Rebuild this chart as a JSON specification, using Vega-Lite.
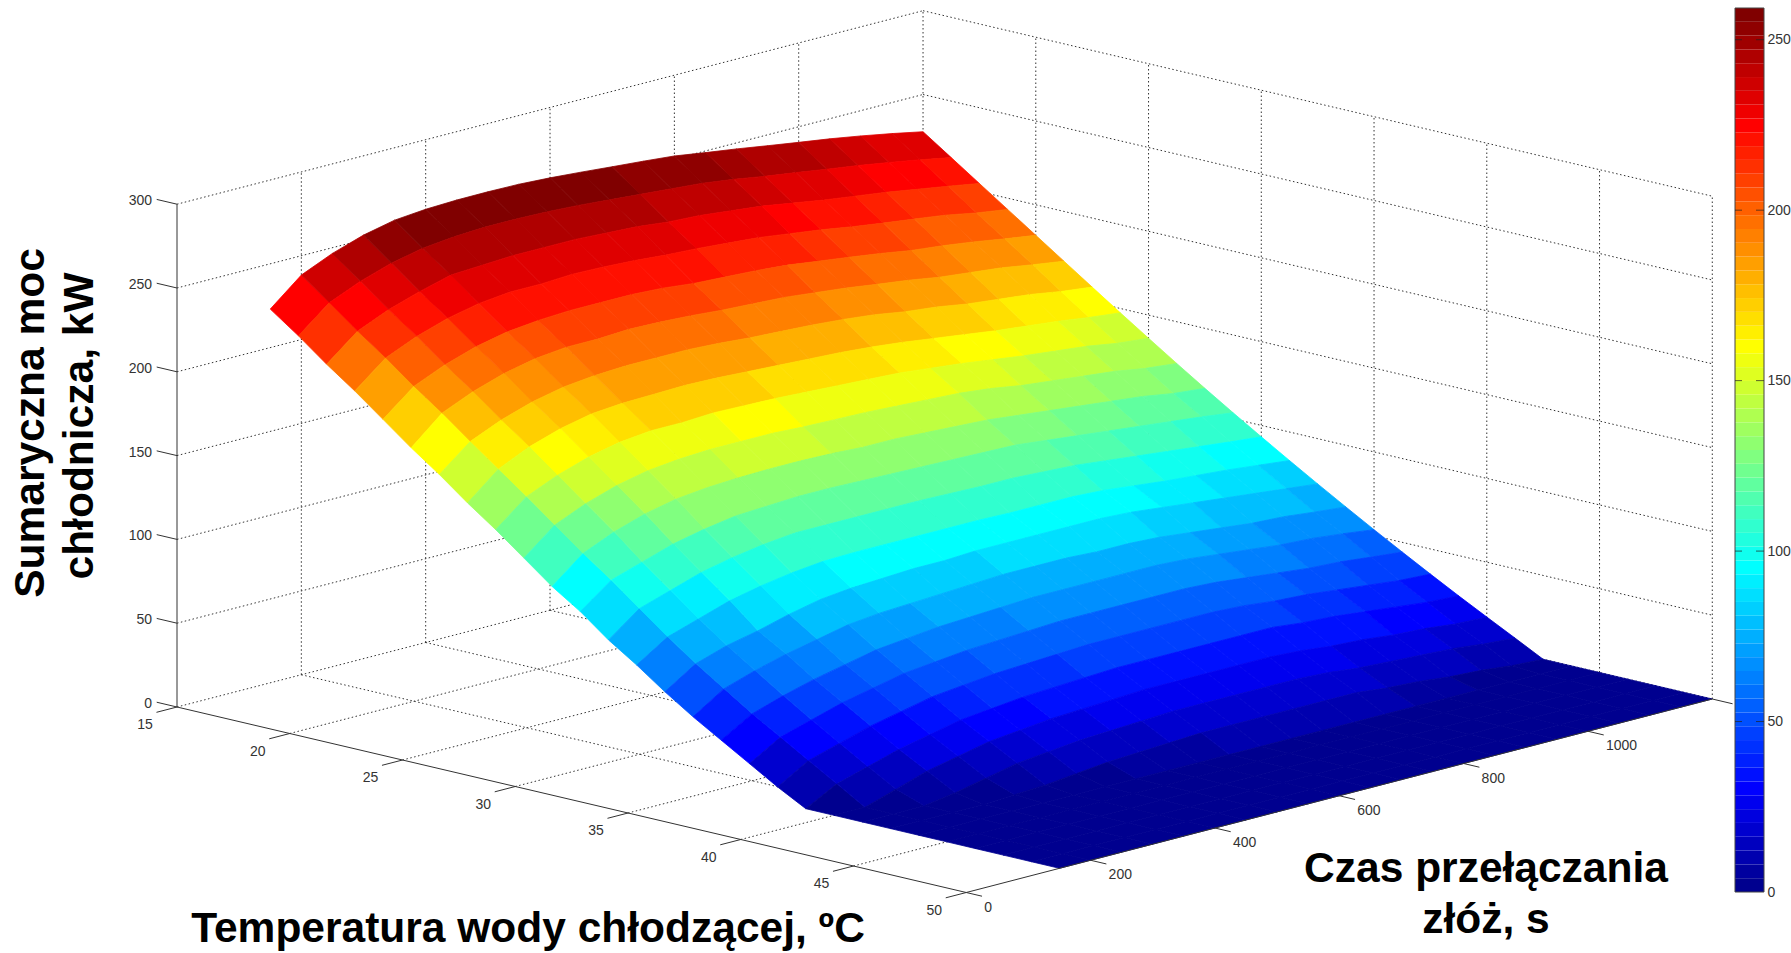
{"$schema":"https://vega.github.io/schema/vega-lite/v6.json","width":1791,"height":953,"padding":0,"autosize":{"type":"none"},"background":"white","config":{"view":{"stroke":null}},
"datasets":{
"surface":[
{"t":15,"s":150,"p":223},{"t":16.25,"s":150,"p":211},{"t":17.5,"s":150,"p":198},{"t":18.75,"s":150,"p":186},{"t":20,"s":150,"p":173},{"t":21.25,"s":150,"p":160},{"t":22.5,"s":150,"p":148},{"t":23.75,"s":150,"p":135},{"t":25,"s":150,"p":123},{"t":26.25,"s":150,"p":110},{"t":27.5,"s":150,"p":97},{"t":28.75,"s":150,"p":86},{"t":30,"s":150,"p":73},{"t":31.25,"s":150,"p":62},{"t":32.5,"s":150,"p":50},{"t":33.75,"s":150,"p":39},{"t":35,"s":150,"p":29},{"t":36.25,"s":150,"p":19},{"t":37.5,"s":150,"p":9},{"t":38.75,"s":150,"p":0},{"t":40,"s":150,"p":0},{"t":41.25,"s":150,"p":0},{"t":42.5,"s":150,"p":0},{"t":43.75,"s":150,"p":0},{"t":45,"s":150,"p":0},{"t":46.25,"s":150,"p":0},{"t":47.5,"s":150,"p":0},{"t":48.75,"s":150,"p":0},{"t":50,"s":150,"p":0},
{"t":15,"s":200,"p":238.5},{"t":16.25,"s":200,"p":226},{"t":17.5,"s":200,"p":213},{"t":18.75,"s":200,"p":201},{"t":20,"s":200,"p":188},{"t":21.25,"s":200,"p":176},{"t":22.5,"s":200,"p":163},{"t":23.75,"s":200,"p":150.5},{"t":25,"s":200,"p":138},{"t":26.25,"s":200,"p":125},{"t":27.5,"s":200,"p":112},{"t":28.75,"s":200,"p":100},{"t":30,"s":200,"p":87},{"t":31.25,"s":200,"p":74},{"t":32.5,"s":200,"p":62},{"t":33.75,"s":200,"p":51},{"t":35,"s":200,"p":40},{"t":36.25,"s":200,"p":30},{"t":37.5,"s":200,"p":20},{"t":38.75,"s":200,"p":10},{"t":40,"s":200,"p":0},{"t":41.25,"s":200,"p":0},{"t":42.5,"s":200,"p":0},{"t":43.75,"s":200,"p":0},{"t":45,"s":200,"p":0},{"t":46.25,"s":200,"p":0},{"t":47.5,"s":200,"p":0},{"t":48.75,"s":200,"p":0},{"t":50,"s":200,"p":0},
{"t":15,"s":250,"p":246.6},{"t":16.25,"s":250,"p":234},{"t":17.5,"s":250,"p":221},{"t":18.75,"s":250,"p":209},{"t":20,"s":250,"p":196},{"t":21.25,"s":250,"p":184},{"t":22.5,"s":250,"p":171},{"t":23.75,"s":250,"p":159},{"t":25,"s":250,"p":146},{"t":26.25,"s":250,"p":133},{"t":27.5,"s":250,"p":120},{"t":28.75,"s":250,"p":106},{"t":30,"s":250,"p":93},{"t":31.25,"s":250,"p":80},{"t":32.5,"s":250,"p":68},{"t":33.75,"s":250,"p":57},{"t":35,"s":250,"p":46},{"t":36.25,"s":250,"p":35.5},{"t":37.5,"s":250,"p":25.5},{"t":38.75,"s":250,"p":15.5},{"t":40,"s":250,"p":6},{"t":41.25,"s":250,"p":0},{"t":42.5,"s":250,"p":0},{"t":43.75,"s":250,"p":0},{"t":45,"s":250,"p":0},{"t":46.25,"s":250,"p":0},{"t":47.5,"s":250,"p":0},{"t":48.75,"s":250,"p":0},{"t":50,"s":250,"p":0},
{"t":15,"s":300,"p":252.7},{"t":16.25,"s":300,"p":240},{"t":17.5,"s":300,"p":227},{"t":18.75,"s":300,"p":215},{"t":20,"s":300,"p":202},{"t":21.25,"s":300,"p":190},{"t":22.5,"s":300,"p":177},{"t":23.75,"s":300,"p":165},{"t":25,"s":300,"p":152},{"t":26.25,"s":300,"p":139},{"t":27.5,"s":300,"p":126},{"t":28.75,"s":300,"p":112},{"t":30,"s":300,"p":99},{"t":31.25,"s":300,"p":86},{"t":32.5,"s":300,"p":72},{"t":33.75,"s":300,"p":62},{"t":35,"s":300,"p":51},{"t":36.25,"s":300,"p":41},{"t":37.5,"s":300,"p":31},{"t":38.75,"s":300,"p":21},{"t":40,"s":300,"p":12},{"t":41.25,"s":300,"p":3},{"t":42.5,"s":300,"p":0},{"t":43.75,"s":300,"p":0},{"t":45,"s":300,"p":0},{"t":46.25,"s":300,"p":0},{"t":47.5,"s":300,"p":0},{"t":48.75,"s":300,"p":0},{"t":50,"s":300,"p":0},
{"t":15,"s":350,"p":256.8},{"t":16.25,"s":350,"p":244},{"t":17.5,"s":350,"p":232},{"t":18.75,"s":350,"p":219},{"t":20,"s":350,"p":206},{"t":21.25,"s":350,"p":194},{"t":22.5,"s":350,"p":181},{"t":23.75,"s":350,"p":169},{"t":25,"s":350,"p":156},{"t":26.25,"s":350,"p":143},{"t":27.5,"s":350,"p":130},{"t":28.75,"s":350,"p":116},{"t":30,"s":350,"p":103},{"t":31.25,"s":350,"p":90},{"t":32.5,"s":350,"p":77},{"t":33.75,"s":350,"p":66},{"t":35,"s":350,"p":55},{"t":36.25,"s":350,"p":45},{"t":37.5,"s":350,"p":35},{"t":38.75,"s":350,"p":25},{"t":40,"s":350,"p":16},{"t":41.25,"s":350,"p":7},{"t":42.5,"s":350,"p":1},{"t":43.75,"s":350,"p":0},{"t":45,"s":350,"p":0},{"t":46.25,"s":350,"p":0},{"t":47.5,"s":350,"p":0},{"t":48.75,"s":350,"p":0},{"t":50,"s":350,"p":0},
{"t":15,"s":400,"p":258.5},{"t":16.25,"s":400,"p":246},{"t":17.5,"s":400,"p":233},{"t":18.75,"s":400,"p":221},{"t":20,"s":400,"p":208},{"t":21.25,"s":400,"p":196},{"t":22.5,"s":400,"p":183},{"t":23.75,"s":400,"p":170.5},{"t":25,"s":400,"p":158},{"t":26.25,"s":400,"p":145},{"t":27.5,"s":400,"p":132},{"t":28.75,"s":400,"p":119},{"t":30,"s":400,"p":106},{"t":31.25,"s":400,"p":93},{"t":32.5,"s":400,"p":81},{"t":33.75,"s":400,"p":70},{"t":35,"s":400,"p":59},{"t":36.25,"s":400,"p":49},{"t":37.5,"s":400,"p":39},{"t":38.75,"s":400,"p":29},{"t":40,"s":400,"p":20},{"t":41.25,"s":400,"p":11},{"t":42.5,"s":400,"p":2},{"t":43.75,"s":400,"p":0},{"t":45,"s":400,"p":0},{"t":46.25,"s":400,"p":0},{"t":47.5,"s":400,"p":0},{"t":48.75,"s":400,"p":0},{"t":50,"s":400,"p":0},
{"t":15,"s":450,"p":259.2},{"t":16.25,"s":450,"p":247},{"t":17.5,"s":450,"p":234},{"t":18.75,"s":450,"p":221},{"t":20,"s":450,"p":209},{"t":21.25,"s":450,"p":196},{"t":22.5,"s":450,"p":184},{"t":23.75,"s":450,"p":171},{"t":25,"s":450,"p":158},{"t":26.25,"s":450,"p":146},{"t":27.5,"s":450,"p":133},{"t":28.75,"s":450,"p":120},{"t":30,"s":450,"p":108},{"t":31.25,"s":450,"p":95},{"t":32.5,"s":450,"p":83},{"t":33.75,"s":450,"p":72},{"t":35,"s":450,"p":61},{"t":36.25,"s":450,"p":51},{"t":37.5,"s":450,"p":41},{"t":38.75,"s":450,"p":31},{"t":40,"s":450,"p":22},{"t":41.25,"s":450,"p":13},{"t":42.5,"s":450,"p":4},{"t":43.75,"s":450,"p":0},{"t":45,"s":450,"p":0},{"t":46.25,"s":450,"p":0},{"t":47.5,"s":450,"p":0},{"t":48.75,"s":450,"p":0},{"t":50,"s":450,"p":0},
{"t":15,"s":500,"p":259.3},{"t":16.25,"s":500,"p":247},{"t":17.5,"s":500,"p":234},{"t":18.75,"s":500,"p":222},{"t":20,"s":500,"p":209},{"t":21.25,"s":500,"p":197},{"t":22.5,"s":500,"p":184},{"t":23.75,"s":500,"p":171.5},{"t":25,"s":500,"p":159},{"t":26.25,"s":500,"p":146},{"t":27.5,"s":500,"p":133.5},{"t":28.75,"s":500,"p":121},{"t":30,"s":500,"p":108},{"t":31.25,"s":500,"p":95.5},{"t":32.5,"s":500,"p":84},{"t":33.75,"s":500,"p":73},{"t":35,"s":500,"p":63},{"t":36.25,"s":500,"p":53},{"t":37.5,"s":500,"p":43},{"t":38.75,"s":500,"p":33},{"t":40,"s":500,"p":24},{"t":41.25,"s":500,"p":15},{"t":42.5,"s":500,"p":6},{"t":43.75,"s":500,"p":0},{"t":45,"s":500,"p":0},{"t":46.25,"s":500,"p":0},{"t":47.5,"s":500,"p":0},{"t":48.75,"s":500,"p":0},{"t":50,"s":500,"p":0},
{"t":15,"s":550,"p":259},{"t":16.25,"s":550,"p":246.5},{"t":17.5,"s":550,"p":234},{"t":18.75,"s":550,"p":221.5},{"t":20,"s":550,"p":209},{"t":21.25,"s":550,"p":196.5},{"t":22.5,"s":550,"p":184},{"t":23.75,"s":550,"p":171},{"t":25,"s":550,"p":158.5},{"t":26.25,"s":550,"p":146},{"t":27.5,"s":550,"p":133.5},{"t":28.75,"s":550,"p":121},{"t":30,"s":550,"p":108},{"t":31.25,"s":550,"p":95.5},{"t":32.5,"s":550,"p":85},{"t":33.75,"s":550,"p":74},{"t":35,"s":550,"p":64},{"t":36.25,"s":550,"p":54},{"t":37.5,"s":550,"p":44},{"t":38.75,"s":550,"p":34},{"t":40,"s":550,"p":25},{"t":41.25,"s":550,"p":16},{"t":42.5,"s":550,"p":7},{"t":43.75,"s":550,"p":0},{"t":45,"s":550,"p":0},{"t":46.25,"s":550,"p":0},{"t":47.5,"s":550,"p":0},{"t":48.75,"s":550,"p":0},{"t":50,"s":550,"p":0},
{"t":15,"s":600,"p":258},{"t":16.25,"s":600,"p":245.5},{"t":17.5,"s":600,"p":233},{"t":18.75,"s":600,"p":220.5},{"t":20,"s":600,"p":208},{"t":21.25,"s":600,"p":195.5},{"t":22.5,"s":600,"p":183},{"t":23.75,"s":600,"p":170},{"t":25,"s":600,"p":158},{"t":26.25,"s":600,"p":145},{"t":27.5,"s":600,"p":133},{"t":28.75,"s":600,"p":120.5},{"t":30,"s":600,"p":108},{"t":31.25,"s":600,"p":95.5},{"t":32.5,"s":600,"p":85},{"t":33.75,"s":600,"p":75},{"t":35,"s":600,"p":65},{"t":36.25,"s":600,"p":55},{"t":37.5,"s":600,"p":45},{"t":38.75,"s":600,"p":35},{"t":40,"s":600,"p":26},{"t":41.25,"s":600,"p":17},{"t":42.5,"s":600,"p":8},{"t":43.75,"s":600,"p":0},{"t":45,"s":600,"p":0},{"t":46.25,"s":600,"p":0},{"t":47.5,"s":600,"p":0},{"t":48.75,"s":600,"p":0},{"t":50,"s":600,"p":0},
{"t":15,"s":650,"p":256.6},{"t":16.25,"s":650,"p":244},{"t":17.5,"s":650,"p":232},{"t":18.75,"s":650,"p":219},{"t":20,"s":650,"p":206},{"t":21.25,"s":650,"p":194},{"t":22.5,"s":650,"p":181.5},{"t":23.75,"s":650,"p":169},{"t":25,"s":650,"p":157},{"t":26.25,"s":650,"p":144.5},{"t":27.5,"s":650,"p":132},{"t":28.75,"s":650,"p":120},{"t":30,"s":650,"p":108},{"t":31.25,"s":650,"p":95.5},{"t":32.5,"s":650,"p":86},{"t":33.75,"s":650,"p":76},{"t":35,"s":650,"p":66},{"t":36.25,"s":650,"p":56},{"t":37.5,"s":650,"p":46},{"t":38.75,"s":650,"p":36},{"t":40,"s":650,"p":27},{"t":41.25,"s":650,"p":18},{"t":42.5,"s":650,"p":9},{"t":43.75,"s":650,"p":0},{"t":45,"s":650,"p":0},{"t":46.25,"s":650,"p":0},{"t":47.5,"s":650,"p":0},{"t":48.75,"s":650,"p":0},{"t":50,"s":650,"p":0},
{"t":15,"s":700,"p":255},{"t":16.25,"s":700,"p":242.5},{"t":17.5,"s":700,"p":230},{"t":18.75,"s":700,"p":218},{"t":20,"s":700,"p":205},{"t":21.25,"s":700,"p":193},{"t":22.5,"s":700,"p":180.5},{"t":23.75,"s":700,"p":168},{"t":25,"s":700,"p":156},{"t":26.25,"s":700,"p":144},{"t":27.5,"s":700,"p":132},{"t":28.75,"s":700,"p":119.5},{"t":30,"s":700,"p":107.5},{"t":31.25,"s":700,"p":95.5},{"t":32.5,"s":700,"p":86},{"t":33.75,"s":700,"p":76},{"t":35,"s":700,"p":66},{"t":36.25,"s":700,"p":56},{"t":37.5,"s":700,"p":46},{"t":38.75,"s":700,"p":36},{"t":40,"s":700,"p":27},{"t":41.25,"s":700,"p":18},{"t":42.5,"s":700,"p":9},{"t":43.75,"s":700,"p":0},{"t":45,"s":700,"p":0},{"t":46.25,"s":700,"p":0},{"t":47.5,"s":700,"p":0},{"t":48.75,"s":700,"p":0},{"t":50,"s":700,"p":0},
{"t":15,"s":750,"p":253.5},{"t":16.25,"s":750,"p":241},{"t":17.5,"s":750,"p":229},{"t":18.75,"s":750,"p":216.5},{"t":20,"s":750,"p":204},{"t":21.25,"s":750,"p":192},{"t":22.5,"s":750,"p":179.5},{"t":23.75,"s":750,"p":167},{"t":25,"s":750,"p":155},{"t":26.25,"s":750,"p":143},{"t":27.5,"s":750,"p":131},{"t":28.75,"s":750,"p":119},{"t":30,"s":750,"p":107},{"t":31.25,"s":750,"p":95},{"t":32.5,"s":750,"p":86},{"t":33.75,"s":750,"p":76},{"t":35,"s":750,"p":66},{"t":36.25,"s":750,"p":56},{"t":37.5,"s":750,"p":46},{"t":38.75,"s":750,"p":36},{"t":40,"s":750,"p":27},{"t":41.25,"s":750,"p":18},{"t":42.5,"s":750,"p":9},{"t":43.75,"s":750,"p":0},{"t":45,"s":750,"p":0},{"t":46.25,"s":750,"p":0},{"t":47.5,"s":750,"p":0},{"t":48.75,"s":750,"p":0},{"t":50,"s":750,"p":0},
{"t":15,"s":800,"p":251.8},{"t":16.25,"s":800,"p":239.5},{"t":17.5,"s":800,"p":227},{"t":18.75,"s":800,"p":215},{"t":20,"s":800,"p":202.5},{"t":21.25,"s":800,"p":190},{"t":22.5,"s":800,"p":178},{"t":23.75,"s":800,"p":165.5},{"t":25,"s":800,"p":154},{"t":26.25,"s":800,"p":142},{"t":27.5,"s":800,"p":130},{"t":28.75,"s":800,"p":118.5},{"t":30,"s":800,"p":107},{"t":31.25,"s":800,"p":95},{"t":32.5,"s":800,"p":86},{"t":33.75,"s":800,"p":75},{"t":35,"s":800,"p":66},{"t":36.25,"s":800,"p":56},{"t":37.5,"s":800,"p":46},{"t":38.75,"s":800,"p":36},{"t":40,"s":800,"p":27},{"t":41.25,"s":800,"p":18},{"t":42.5,"s":800,"p":9},{"t":43.75,"s":800,"p":0},{"t":45,"s":800,"p":0},{"t":46.25,"s":800,"p":0},{"t":47.5,"s":800,"p":0},{"t":48.75,"s":800,"p":0},{"t":50,"s":800,"p":0},
{"t":15,"s":850,"p":249},{"t":16.25,"s":850,"p":237},{"t":17.5,"s":850,"p":225},{"t":18.75,"s":850,"p":212.5},{"t":20,"s":850,"p":200},{"t":21.25,"s":850,"p":188},{"t":22.5,"s":850,"p":176},{"t":23.75,"s":850,"p":163.5},{"t":25,"s":850,"p":152},{"t":26.25,"s":850,"p":141},{"t":27.5,"s":850,"p":129},{"t":28.75,"s":850,"p":118},{"t":30,"s":850,"p":106},{"t":31.25,"s":850,"p":95},{"t":32.5,"s":850,"p":86},{"t":33.75,"s":850,"p":75},{"t":35,"s":850,"p":66},{"t":36.25,"s":850,"p":56},{"t":37.5,"s":850,"p":46},{"t":38.75,"s":850,"p":36},{"t":40,"s":850,"p":27},{"t":41.25,"s":850,"p":18},{"t":42.5,"s":850,"p":9},{"t":43.75,"s":850,"p":0},{"t":45,"s":850,"p":0},{"t":46.25,"s":850,"p":0},{"t":47.5,"s":850,"p":0},{"t":48.75,"s":850,"p":0},{"t":50,"s":850,"p":0},
{"t":15,"s":900,"p":246.4},{"t":16.25,"s":900,"p":234},{"t":17.5,"s":900,"p":222},{"t":18.75,"s":900,"p":210},{"t":20,"s":900,"p":197.6},{"t":21.25,"s":900,"p":185.4},{"t":22.5,"s":900,"p":173},{"t":23.75,"s":900,"p":161},{"t":25,"s":900,"p":150},{"t":26.25,"s":900,"p":139},{"t":27.5,"s":900,"p":127},{"t":28.75,"s":900,"p":116},{"t":30,"s":900,"p":105},{"t":31.25,"s":900,"p":94},{"t":32.5,"s":900,"p":85},{"t":33.75,"s":900,"p":74},{"t":35,"s":900,"p":65},{"t":36.25,"s":900,"p":55},{"t":37.5,"s":900,"p":45},{"t":38.75,"s":900,"p":36},{"t":40,"s":900,"p":26},{"t":41.25,"s":900,"p":17},{"t":42.5,"s":900,"p":9},{"t":43.75,"s":900,"p":0},{"t":45,"s":900,"p":0},{"t":46.25,"s":900,"p":0},{"t":47.5,"s":900,"p":0},{"t":48.75,"s":900,"p":0},{"t":50,"s":900,"p":0},
{"t":15,"s":950,"p":243.5},{"t":16.25,"s":950,"p":231.4},{"t":17.5,"s":950,"p":219},{"t":18.75,"s":950,"p":207},{"t":20,"s":950,"p":195},{"t":21.25,"s":950,"p":183},{"t":22.5,"s":950,"p":171},{"t":23.75,"s":950,"p":158.5},{"t":25,"s":950,"p":147.5},{"t":26.25,"s":950,"p":136},{"t":27.5,"s":950,"p":125},{"t":28.75,"s":950,"p":114},{"t":30,"s":950,"p":103},{"t":31.25,"s":950,"p":92},{"t":32.5,"s":950,"p":83},{"t":33.75,"s":950,"p":72},{"t":35,"s":950,"p":63},{"t":36.25,"s":950,"p":53},{"t":37.5,"s":950,"p":43},{"t":38.75,"s":950,"p":34},{"t":40,"s":950,"p":24},{"t":41.25,"s":950,"p":15},{"t":42.5,"s":950,"p":7},{"t":43.75,"s":950,"p":0},{"t":45,"s":950,"p":0},{"t":46.25,"s":950,"p":0},{"t":47.5,"s":950,"p":0},{"t":48.75,"s":950,"p":0},{"t":50,"s":950,"p":0},
{"t":15,"s":1000,"p":240.7},{"t":16.25,"s":1000,"p":228.6},{"t":17.5,"s":1000,"p":216.5},{"t":18.75,"s":1000,"p":204.4},{"t":20,"s":1000,"p":192},{"t":21.25,"s":1000,"p":180},{"t":22.5,"s":1000,"p":168},{"t":23.75,"s":1000,"p":156},{"t":25,"s":1000,"p":145},{"t":26.25,"s":1000,"p":134},{"t":27.5,"s":1000,"p":123},{"t":28.75,"s":1000,"p":112},{"t":30,"s":1000,"p":101},{"t":31.25,"s":1000,"p":90},{"t":32.5,"s":1000,"p":81},{"t":33.75,"s":1000,"p":70},{"t":35,"s":1000,"p":61},{"t":36.25,"s":1000,"p":51},{"t":37.5,"s":1000,"p":42},{"t":38.75,"s":1000,"p":33},{"t":40,"s":1000,"p":23},{"t":41.25,"s":1000,"p":14},{"t":42.5,"s":1000,"p":6},{"t":43.75,"s":1000,"p":0},{"t":45,"s":1000,"p":0},{"t":46.25,"s":1000,"p":0},{"t":47.5,"s":1000,"p":0},{"t":48.75,"s":1000,"p":0},{"t":50,"s":1000,"p":0},
{"t":15,"s":1050,"p":238},{"t":16.25,"s":1050,"p":226},{"t":17.5,"s":1050,"p":214},{"t":18.75,"s":1050,"p":202},{"t":20,"s":1050,"p":190},{"t":21.25,"s":1050,"p":178},{"t":22.5,"s":1050,"p":166},{"t":23.75,"s":1050,"p":154},{"t":25,"s":1050,"p":143},{"t":26.25,"s":1050,"p":132},{"t":27.5,"s":1050,"p":121},{"t":28.75,"s":1050,"p":110},{"t":30,"s":1050,"p":99},{"t":31.25,"s":1050,"p":88.5},{"t":32.5,"s":1050,"p":79},{"t":33.75,"s":1050,"p":68},{"t":35,"s":1050,"p":59},{"t":36.25,"s":1050,"p":49},{"t":37.5,"s":1050,"p":40},{"t":38.75,"s":1050,"p":31},{"t":40,"s":1050,"p":21},{"t":41.25,"s":1050,"p":13},{"t":42.5,"s":1050,"p":4},{"t":43.75,"s":1050,"p":0},{"t":45,"s":1050,"p":0},{"t":46.25,"s":1050,"p":0},{"t":47.5,"s":1050,"p":0},{"t":48.75,"s":1050,"p":0},{"t":50,"s":1050,"p":0},
{"t":15,"s":1100,"p":234.9},{"t":16.25,"s":1100,"p":223},{"t":17.5,"s":1100,"p":211},{"t":18.75,"s":1100,"p":199.5},{"t":20,"s":1100,"p":187.5},{"t":21.25,"s":1100,"p":176},{"t":22.5,"s":1100,"p":164},{"t":23.75,"s":1100,"p":152},{"t":25,"s":1100,"p":141},{"t":26.25,"s":1100,"p":130},{"t":27.5,"s":1100,"p":119},{"t":28.75,"s":1100,"p":108},{"t":30,"s":1100,"p":97},{"t":31.25,"s":1100,"p":87},{"t":32.5,"s":1100,"p":77},{"t":33.75,"s":1100,"p":67},{"t":35,"s":1100,"p":58},{"t":36.25,"s":1100,"p":48},{"t":37.5,"s":1100,"p":38},{"t":38.75,"s":1100,"p":29},{"t":40,"s":1100,"p":20},{"t":41.25,"s":1100,"p":12},{"t":42.5,"s":1100,"p":3},{"t":43.75,"s":1100,"p":0},{"t":45,"s":1100,"p":0},{"t":46.25,"s":1100,"p":0},{"t":47.5,"s":1100,"p":0},{"t":48.75,"s":1100,"p":0},{"t":50,"s":1100,"p":0},
{"t":15,"s":1150,"p":231.5},{"t":16.25,"s":1150,"p":219.8},{"t":17.5,"s":1150,"p":208},{"t":18.75,"s":1150,"p":196},{"t":20,"s":1150,"p":184.5},{"t":21.25,"s":1150,"p":173},{"t":22.5,"s":1150,"p":161},{"t":23.75,"s":1150,"p":149.5},{"t":25,"s":1150,"p":138},{"t":26.25,"s":1150,"p":127},{"t":27.5,"s":1150,"p":116},{"t":28.75,"s":1150,"p":106},{"t":30,"s":1150,"p":95},{"t":31.25,"s":1150,"p":85},{"t":32.5,"s":1150,"p":75},{"t":33.75,"s":1150,"p":65},{"t":35,"s":1150,"p":56},{"t":36.25,"s":1150,"p":46},{"t":37.5,"s":1150,"p":36},{"t":38.75,"s":1150,"p":27},{"t":40,"s":1150,"p":18},{"t":41.25,"s":1150,"p":10},{"t":42.5,"s":1150,"p":1},{"t":43.75,"s":1150,"p":0},{"t":45,"s":1150,"p":0},{"t":46.25,"s":1150,"p":0},{"t":47.5,"s":1150,"p":0},{"t":48.75,"s":1150,"p":0},{"t":50,"s":1150,"p":0},
{"t":15,"s":1200,"p":227.8},{"t":16.25,"s":1200,"p":216.3},{"t":17.5,"s":1200,"p":204.8},{"t":18.75,"s":1200,"p":193.3},{"t":20,"s":1200,"p":181.8},{"t":21.25,"s":1200,"p":170.3},{"t":22.5,"s":1200,"p":158.8},{"t":23.75,"s":1200,"p":147.4},{"t":25,"s":1200,"p":136.2},{"t":26.25,"s":1200,"p":125.1},{"t":27.5,"s":1200,"p":114.2},{"t":28.75,"s":1200,"p":103.6},{"t":30,"s":1200,"p":93.2},{"t":31.25,"s":1200,"p":83},{"t":32.5,"s":1200,"p":73},{"t":33.75,"s":1200,"p":63.2},{"t":35,"s":1200,"p":53.6},{"t":36.25,"s":1200,"p":44.2},{"t":37.5,"s":1200,"p":35},{"t":38.75,"s":1200,"p":26},{"t":40,"s":1200,"p":17.3},{"t":41.25,"s":1200,"p":8.7},{"t":42.5,"s":1200,"p":0},{"t":43.75,"s":1200,"p":0},{"t":45,"s":1200,"p":0},{"t":46.25,"s":1200,"p":0},{"t":47.5,"s":1200,"p":0},{"t":48.75,"s":1200,"p":0},{"t":50,"s":1200,"p":0}
],
"grid":[
{"t":15,"s":0,"z":0,"t2":15,"s2":1200,"z2":0},{"t":15,"s":0,"z":50,"t2":15,"s2":1200,"z2":50},{"t":15,"s":0,"z":100,"t2":15,"s2":1200,"z2":100},{"t":15,"s":0,"z":150,"t2":15,"s2":1200,"z2":150},{"t":15,"s":0,"z":200,"t2":15,"s2":1200,"z2":200},{"t":15,"s":0,"z":250,"t2":15,"s2":1200,"z2":250},{"t":15,"s":0,"z":300,"t2":15,"s2":1200,"z2":300},
{"t":15,"s":200,"z":0,"t2":15,"s2":200,"z2":300},{"t":15,"s":400,"z":0,"t2":15,"s2":400,"z2":300},{"t":15,"s":600,"z":0,"t2":15,"s2":600,"z2":300},{"t":15,"s":800,"z":0,"t2":15,"s2":800,"z2":300},{"t":15,"s":1000,"z":0,"t2":15,"s2":1000,"z2":300},{"t":15,"s":1200,"z":0,"t2":15,"s2":1200,"z2":300},
{"t":15,"s":1200,"z":0,"t2":50,"s2":1200,"z2":0},{"t":15,"s":1200,"z":50,"t2":50,"s2":1200,"z2":50},{"t":15,"s":1200,"z":100,"t2":50,"s2":1200,"z2":100},{"t":15,"s":1200,"z":150,"t2":50,"s2":1200,"z2":150},{"t":15,"s":1200,"z":200,"t2":50,"s2":1200,"z2":200},{"t":15,"s":1200,"z":250,"t2":50,"s2":1200,"z2":250},{"t":15,"s":1200,"z":300,"t2":50,"s2":1200,"z2":300},
{"t":20,"s":1200,"z":0,"t2":20,"s2":1200,"z2":300},{"t":25,"s":1200,"z":0,"t2":25,"s2":1200,"z2":300},{"t":30,"s":1200,"z":0,"t2":30,"s2":1200,"z2":300},{"t":35,"s":1200,"z":0,"t2":35,"s2":1200,"z2":300},{"t":40,"s":1200,"z":0,"t2":40,"s2":1200,"z2":300},{"t":45,"s":1200,"z":0,"t2":45,"s2":1200,"z2":300},{"t":50,"s":1200,"z":0,"t2":50,"s2":1200,"z2":300},
{"t":20,"s":0,"z":0,"t2":20,"s2":1200,"z2":0},{"t":25,"s":0,"z":0,"t2":25,"s2":1200,"z2":0},{"t":30,"s":0,"z":0,"t2":30,"s2":1200,"z2":0},{"t":35,"s":0,"z":0,"t2":35,"s2":1200,"z2":0},{"t":40,"s":0,"z":0,"t2":40,"s2":1200,"z2":0},{"t":45,"s":0,"z":0,"t2":45,"s2":1200,"z2":0},
{"t":15,"s":200,"z":0,"t2":50,"s2":200,"z2":0},{"t":15,"s":400,"z":0,"t2":50,"s2":400,"z2":0},{"t":15,"s":600,"z":0,"t2":50,"s2":600,"z2":0},{"t":15,"s":800,"z":0,"t2":50,"s2":800,"z2":0},{"t":15,"s":1000,"z":0,"t2":50,"s2":1000,"z2":0}
],
"axes":[
{"t":15,"s":0,"z":0,"t2":15,"s2":0,"z2":300},{"t":15,"s":0,"z":0,"t2":50,"s2":0,"z2":0},{"t":50,"s":0,"z":0,"t2":50,"s2":1200,"z2":0},
{"t":15,"s":0,"z":0,"t2":14.1,"s2":0,"z2":0},{"t":15,"s":0,"z":50,"t2":14.1,"s2":0,"z2":50},{"t":15,"s":0,"z":100,"t2":14.1,"s2":0,"z2":100},{"t":15,"s":0,"z":150,"t2":14.1,"s2":0,"z2":150},{"t":15,"s":0,"z":200,"t2":14.1,"s2":0,"z2":200},{"t":15,"s":0,"z":250,"t2":14.1,"s2":0,"z2":250},{"t":15,"s":0,"z":300,"t2":14.1,"s2":0,"z2":300},
{"t":15,"s":0,"z":0,"t2":15,"s2":-33,"z2":0},{"t":20,"s":0,"z":0,"t2":20,"s2":-33,"z2":0},{"t":25,"s":0,"z":0,"t2":25,"s2":-33,"z2":0},{"t":30,"s":0,"z":0,"t2":30,"s2":-33,"z2":0},{"t":35,"s":0,"z":0,"t2":35,"s2":-33,"z2":0},{"t":40,"s":0,"z":0,"t2":40,"s2":-33,"z2":0},{"t":45,"s":0,"z":0,"t2":45,"s2":-33,"z2":0},{"t":50,"s":0,"z":0,"t2":50,"s2":-33,"z2":0},
{"t":50,"s":0,"z":0,"t2":50.7,"s2":0,"z2":0},{"t":50,"s":200,"z":0,"t2":50.7,"s2":200,"z2":0},{"t":50,"s":400,"z":0,"t2":50.7,"s2":400,"z2":0},{"t":50,"s":600,"z":0,"t2":50.7,"s2":600,"z2":0},{"t":50,"s":800,"z":0,"t2":50.7,"s2":800,"z2":0},{"t":50,"s":1000,"z":0,"t2":50.7,"s2":1000,"z2":0},{"t":50,"s":1200,"z":0,"t2":50.9,"s2":1200,"z2":0}
],
"zlabels":[{"t":15,"s":0,"z":0,"v":"0"},{"t":15,"s":0,"z":50,"v":"50"},{"t":15,"s":0,"z":100,"v":"100"},{"t":15,"s":0,"z":150,"v":"150"},{"t":15,"s":0,"z":200,"v":"200"},{"t":15,"s":0,"z":250,"v":"250"},{"t":15,"s":0,"z":300,"v":"300"}],
"tlabels":[{"t":15,"s":0,"z":0,"v":"15"},{"t":20,"s":0,"z":0,"v":"20"},{"t":25,"s":0,"z":0,"v":"25"},{"t":30,"s":0,"z":0,"v":"30"},{"t":35,"s":0,"z":0,"v":"35"},{"t":40,"s":0,"z":0,"v":"40"},{"t":45,"s":0,"z":0,"v":"45"},{"t":50,"s":0,"z":0,"v":"50"}],
"slabels":[{"t":50,"s":0,"z":0,"v":"0"},{"t":50,"s":200,"z":0,"v":"200"},{"t":50,"s":400,"z":0,"v":"400"},{"t":50,"s":600,"z":0,"v":"600"},{"t":50,"s":800,"z":0,"v":"800"},{"t":50,"s":1000,"z":0,"v":"1000"}],
"bar":[{"lo":0,"hi":4.05},{"lo":4.05,"hi":8.1},{"lo":8.1,"hi":12.15},{"lo":12.15,"hi":16.21},{"lo":16.21,"hi":20.26},{"lo":20.26,"hi":24.31},{"lo":24.31,"hi":28.36},{"lo":28.36,"hi":32.41},{"lo":32.41,"hi":36.46},{"lo":36.46,"hi":40.52},{"lo":40.52,"hi":44.57},{"lo":44.57,"hi":48.62},{"lo":48.62,"hi":52.67},{"lo":52.67,"hi":56.72},{"lo":56.72,"hi":60.77},{"lo":60.77,"hi":64.83},{"lo":64.83,"hi":68.88},{"lo":68.88,"hi":72.93},{"lo":72.93,"hi":76.98},{"lo":76.98,"hi":81.03},{"lo":81.03,"hi":85.08},{"lo":85.08,"hi":89.14},{"lo":89.14,"hi":93.19},{"lo":93.19,"hi":97.24},{"lo":97.24,"hi":101.29},{"lo":101.29,"hi":105.34},{"lo":105.34,"hi":109.39},{"lo":109.39,"hi":113.45},{"lo":113.45,"hi":117.5},{"lo":117.5,"hi":121.55},{"lo":121.55,"hi":125.6},{"lo":125.6,"hi":129.65},{"lo":129.65,"hi":133.7},{"lo":133.7,"hi":137.76},{"lo":137.76,"hi":141.81},{"lo":141.81,"hi":145.86},{"lo":145.86,"hi":149.91},{"lo":149.91,"hi":153.96},{"lo":153.96,"hi":158.01},{"lo":158.01,"hi":162.07},{"lo":162.07,"hi":166.12},{"lo":166.12,"hi":170.17},{"lo":170.17,"hi":174.22},{"lo":174.22,"hi":178.27},{"lo":178.27,"hi":182.32},{"lo":182.32,"hi":186.38},{"lo":186.38,"hi":190.43},{"lo":190.43,"hi":194.48},{"lo":194.48,"hi":198.53},{"lo":198.53,"hi":202.58},{"lo":202.58,"hi":206.63},{"lo":206.63,"hi":210.69},{"lo":210.69,"hi":214.74},{"lo":214.74,"hi":218.79},{"lo":218.79,"hi":222.84},{"lo":222.84,"hi":226.89},{"lo":226.89,"hi":230.94},{"lo":230.94,"hi":235},{"lo":235,"hi":239.05},{"lo":239.05,"hi":243.1},{"lo":243.1,"hi":247.15},{"lo":247.15,"hi":251.2},{"lo":251.2,"hi":255.25},{"lo":255.25,"hi":259.3}],
"barticks":[{"v":50},{"v":100},{"v":150},{"v":200},{"v":250}]
},
"resolve":{"scale":{"y":"independent"}},
"layer":[
{"layer":[
{"data":{"name":"grid"},"transform":[{"calculate":"177+(datum.t-15)*22.55+datum.s*0.6217","as":"X"},{"calculate":"707+(datum.t-15)*5.3-datum.s*0.16125-datum.z*1.676","as":"Y"},{"calculate":"177+(datum.t2-15)*22.55+datum.s2*0.6217","as":"X2"},{"calculate":"707+(datum.t2-15)*5.3-datum.s2*0.16125-datum.z2*1.676","as":"Y2"}],
"mark":{"type":"rule","stroke":"#333333","strokeWidth":1,"strokeDash":[1.5,2.5]},
"encoding":{"x":{"field":"X","type":"quantitative","axis":null,"scale":{"domain":[0,1791],"range":[0,1791],"nice":false}},"y":{"field":"Y","type":"quantitative","axis":null,"scale":{"domain":[0,953],"range":[0,953],"nice":false}},"x2":{"field":"X2"},"y2":{"field":"Y2"}}},
{"data":{"name":"surface"},"transform":[{"calculate":"[0,1,2,3]","as":"k"},{"flatten":["k"]},{"calculate":"(datum.t-15)/1.25-((datum.k==1||datum.k==2)?1:0)","as":"ci"},{"calculate":"(datum.s-150)/50-((datum.k==2||datum.k==3)?1:0)","as":"cj"},{"filter":"datum.ci>=0&&datum.ci<28&&datum.cj>=0&&datum.cj<21"},{"calculate":"datum.ci*100+datum.cj","as":"cell"},{"calculate":"datum.k==0?datum.p:-1","as":"c"},{"joinaggregate":[{"op":"max","field":"c","as":"v"}],"groupby":["cell"]},{"calculate":"177+(datum.t-15)*22.55+datum.s*0.6217","as":"X"},{"calculate":"707+(datum.t-15)*5.3-datum.s*0.16125-datum.p*1.676","as":"Y"}],
"mark":{"type":"line","filled":true,"interpolate":"linear-closed","strokeWidth":0.8},
"encoding":{"x":{"field":"X","type":"quantitative"},"y":{"field":"Y","type":"quantitative"},"order":{"field":"k","type":"quantitative"},"detail":{"field":"cell","type":"nominal"},
"fill":{"field":"v","type":"quantitative","legend":null,"scale":{"type":"quantize","domain":[0,259.3],"range":["#00008f","#00009f","#0000af","#0000bf","#0000cf","#0000df","#0000ef","#0000ff","#0010ff","#0020ff","#0030ff","#0040ff","#0050ff","#0060ff","#0070ff","#0080ff","#008fff","#009fff","#00afff","#00bfff","#00cfff","#00dfff","#00efff","#00ffff","#10ffef","#20ffdf","#30ffcf","#40ffbf","#50ffaf","#60ff9f","#70ff8f","#80ff80","#8fff70","#9fff60","#afff50","#bfff40","#cfff30","#dfff20","#efff10","#ffff00","#ffef00","#ffdf00","#ffcf00","#ffbf00","#ffaf00","#ff9f00","#ff8f00","#ff8000","#ff7000","#ff6000","#ff5000","#ff4000","#ff3000","#ff2000","#ff1000","#ff0000","#ef0000","#df0000","#cf0000","#bf0000","#af0000","#9f0000","#8f0000","#800000"]}},
"stroke":{"field":"v","type":"quantitative","legend":null,"scale":{"type":"quantize","domain":[0,259.3],"range":["#00008f","#00009f","#0000af","#0000bf","#0000cf","#0000df","#0000ef","#0000ff","#0010ff","#0020ff","#0030ff","#0040ff","#0050ff","#0060ff","#0070ff","#0080ff","#008fff","#009fff","#00afff","#00bfff","#00cfff","#00dfff","#00efff","#00ffff","#10ffef","#20ffdf","#30ffcf","#40ffbf","#50ffaf","#60ff9f","#70ff8f","#80ff80","#8fff70","#9fff60","#afff50","#bfff40","#cfff30","#dfff20","#efff10","#ffff00","#ffef00","#ffdf00","#ffcf00","#ffbf00","#ffaf00","#ff9f00","#ff8f00","#ff8000","#ff7000","#ff6000","#ff5000","#ff4000","#ff3000","#ff2000","#ff1000","#ff0000","#ef0000","#df0000","#cf0000","#bf0000","#af0000","#9f0000","#8f0000","#800000"]}}}},
{"data":{"name":"axes"},"transform":[{"calculate":"177+(datum.t-15)*22.55+datum.s*0.6217","as":"X"},{"calculate":"707+(datum.t-15)*5.3-datum.s*0.16125-datum.z*1.676","as":"Y"},{"calculate":"177+(datum.t2-15)*22.55+datum.s2*0.6217","as":"X2"},{"calculate":"707+(datum.t2-15)*5.3-datum.s2*0.16125-datum.z2*1.676","as":"Y2"}],
"mark":{"type":"rule","stroke":"#333333","strokeWidth":1},
"encoding":{"x":{"field":"X","type":"quantitative"},"y":{"field":"Y","type":"quantitative"},"x2":{"field":"X2"},"y2":{"field":"Y2"}}},
{"data":{"name":"zlabels"},"transform":[{"calculate":"177+(datum.t-15)*22.55+datum.s*0.6217","as":"X"},{"calculate":"707+(datum.t-15)*5.3-datum.s*0.16125-datum.z*1.676","as":"Y"}],
"mark":{"type":"text","font":"Liberation Sans","fontSize":14,"fill":"#333333","align":"right","baseline":"middle","dx":-25,"dy":-3},
"encoding":{"x":{"field":"X","type":"quantitative"},"y":{"field":"Y","type":"quantitative"},"text":{"field":"v"}}},
{"data":{"name":"tlabels"},"transform":[{"calculate":"177+(datum.t-15)*22.55+datum.s*0.6217","as":"X"},{"calculate":"707+(datum.t-15)*5.3-datum.s*0.16125-datum.z*1.676","as":"Y"}],
"mark":{"type":"text","font":"Liberation Sans","fontSize":14,"fill":"#333333","align":"center","baseline":"middle","dx":-32,"dy":18},
"encoding":{"x":{"field":"X","type":"quantitative"},"y":{"field":"Y","type":"quantitative"},"text":{"field":"v"}}},
{"data":{"name":"slabels"},"transform":[{"calculate":"177+(datum.t-15)*22.55+datum.s*0.6217","as":"X"},{"calculate":"707+(datum.t-15)*5.3-datum.s*0.16125-datum.z*1.676","as":"Y"}],
"mark":{"type":"text","font":"Liberation Sans","fontSize":14,"fill":"#333333","align":"left","baseline":"middle","dx":18,"dy":15},
"encoding":{"x":{"field":"X","type":"quantitative"},"y":{"field":"Y","type":"quantitative"},"text":{"field":"v"}}},
{"data":{"values":[{"label":"Temperatura wody chłodzącej, ºC"}]},"mark":{"type":"text","font":"Liberation Sans","fontWeight":"bold","fontSize":42.5,"fill":"black","align":"center","baseline":"middle"},"encoding":{"x":{"value":528},"y":{"value":929},"text":{"field":"label"}}},
{"data":{"values":[{"label":"Czas przełączania"}]},"mark":{"type":"text","font":"Liberation Sans","fontWeight":"bold","fontSize":42.5,"fill":"black","align":"center","baseline":"middle"},"encoding":{"x":{"value":1486},"y":{"value":869},"text":{"field":"label"}}},
{"data":{"values":[{"label":"złóż, s"}]},"mark":{"type":"text","font":"Liberation Sans","fontWeight":"bold","fontSize":42.5,"fill":"black","align":"center","baseline":"middle"},"encoding":{"x":{"value":1486},"y":{"value":920},"text":{"field":"label"}}},
{"data":{"values":[{"label":"Sumaryczna moc"}]},"mark":{"type":"text","font":"Liberation Sans","fontWeight":"bold","fontSize":42.5,"fill":"black","align":"center","baseline":"middle","angle":270},"encoding":{"x":{"value":31},"y":{"value":423},"text":{"field":"label"}}},
{"data":{"values":[{"label":"chłodnicza, kW"}]},"mark":{"type":"text","font":"Liberation Sans","fontWeight":"bold","fontSize":42.5,"fill":"black","align":"center","baseline":"middle","angle":270},"encoding":{"x":{"value":80},"y":{"value":426},"text":{"field":"label"}}}
]},
{"layer":[
{"data":{"name":"bar"},"transform":[{"calculate":"(datum.lo+datum.hi)/2","as":"mid"}],"mark":{"type":"rect"},
"encoding":{"x":{"value":1735},"x2":{"value":1764},"y":{"field":"lo","type":"quantitative","scale":{"domain":[0,259.3],"range":[892,8],"nice":false},"axis":{"orient":"right","offset":-27,"values":[0,50,100,150,200,250],"domain":false,"ticks":false,"grid":false,"title":null,"labelPadding":3,"labelFont":"Liberation Sans","labelFontSize":14,"labelColor":"#333333","labelFlush":false,"labelOverlap":false}},"y2":{"field":"hi"},
"fill":{"field":"mid","type":"quantitative","legend":null,"scale":{"type":"quantize","domain":[0,259.3],"range":["#00008f","#00009f","#0000af","#0000bf","#0000cf","#0000df","#0000ef","#0000ff","#0010ff","#0020ff","#0030ff","#0040ff","#0050ff","#0060ff","#0070ff","#0080ff","#008fff","#009fff","#00afff","#00bfff","#00cfff","#00dfff","#00efff","#00ffff","#10ffef","#20ffdf","#30ffcf","#40ffbf","#50ffaf","#60ff9f","#70ff8f","#80ff80","#8fff70","#9fff60","#afff50","#bfff40","#cfff30","#dfff20","#efff10","#ffff00","#ffef00","#ffdf00","#ffcf00","#ffbf00","#ffaf00","#ff9f00","#ff8f00","#ff8000","#ff7000","#ff6000","#ff5000","#ff4000","#ff3000","#ff2000","#ff1000","#ff0000","#ef0000","#df0000","#cf0000","#bf0000","#af0000","#9f0000","#8f0000","#800000"]}}}},
{"data":{"values":[{"lo":0,"hi":259.3}]},"mark":{"type":"rect","filled":false,"stroke":"#444444","strokeWidth":1},"encoding":{"x":{"value":1735},"x2":{"value":1764},"y":{"field":"lo","type":"quantitative"},"y2":{"field":"hi"}}},
{"data":{"name":"barticks"},"mark":{"type":"rule","stroke":"#222222","opacity":0.7},"encoding":{"x":{"value":1735},"x2":{"value":1742},"y":{"field":"v","type":"quantitative"}}},
{"data":{"name":"barticks"},"mark":{"type":"rule","stroke":"#222222","opacity":0.7},"encoding":{"x":{"value":1756},"x2":{"value":1764},"y":{"field":"v","type":"quantitative"}}}
]}
]}
